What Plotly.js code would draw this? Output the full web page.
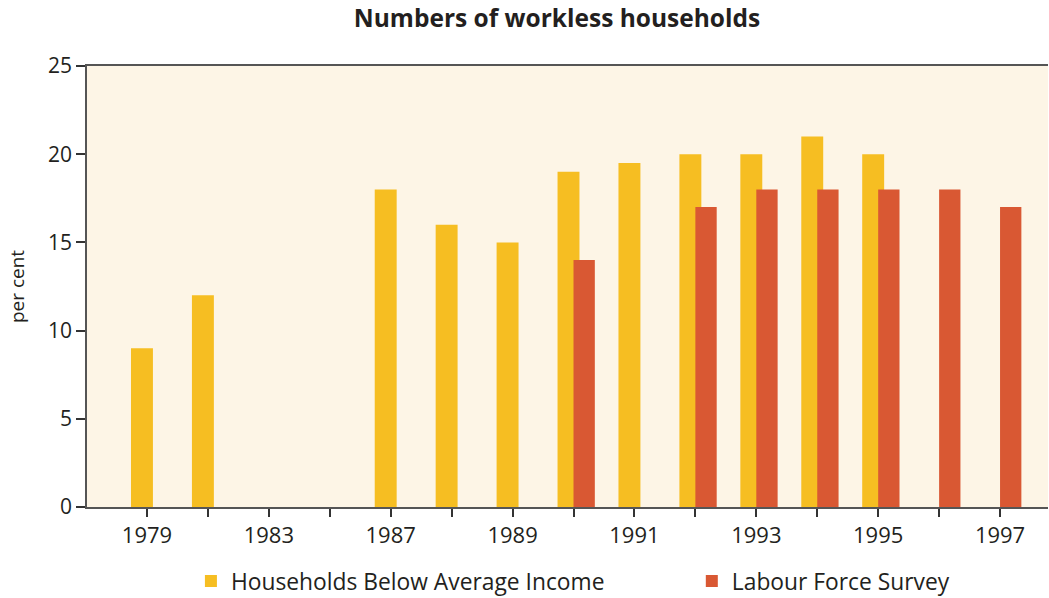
<!DOCTYPE html>
<html>
<head>
<meta charset="utf-8">
<script src="https://cdn.plot.ly/plotly-3.0.1.min.js"></script>
<style>html,body{margin:0;padding:0;background:#fff;}#chart{width:1049px;height:598px;}</style>
</head>
<body>
<div id="chart"></div>
<script>
const categories = ['1979','1981','1983','1985','1987','1988','1989','1990','1991','1992','1993','1994','1995','1996','1997'];
const tickLabels = ['1979','','1983','','1987','','1989','','1991','','1993','','1995','','1997'];
const hbaiValues = [9, 12, 0, 0, 18, 16, 15, 19, 19.5, 20, 20, 21, 20, 0, 0];
const lfsValues = [null, null, null, null, null, null, null, 14, null, 17, 18, 18, 18, 18, 17];
const seriesNames = ['Households Below Average Income', 'Labour Force Survey'];

const FONT = 'Open Sans, DejaVu Sans, sans-serif';
const TXT = '#231f20';

const traces = [
  {
    type: 'bar', name: seriesNames[0], x: categories, y: hbaiValues,
    marker: {color: '#F6BE22', line: {width: 0}},
    offset: -0.262, width: 0.36, legend: 'legend', hoverinfo: 'x+y'
  },
  {
    type: 'bar', name: seriesNames[1], x: categories, y: lfsValues,
    marker: {color: '#D95833', line: {width: 0}},
    offset: 0.0, width: 0.35, legend: 'legend2', hoverinfo: 'x+y'
  }
];

const layout = {
  width: 1049, height: 598,
  margin: {l: 87, r: 1, t: 66, b: 91},
  paper_bgcolor: '#ffffff',
  plot_bgcolor: '#FDF5E6',
  barmode: 'overlay',
  font: {family: FONT, color: TXT, size: 21},
  title: {
    text: '<b>Numbers of workless households</b>',
    font: {family: FONT, size: 24.5, color: TXT},
    xref: 'container', x: 0.531, xanchor: 'center',
    yref: 'container', y: 0.97, yanchor: 'middle'
  },
  xaxis: {
    type: 'category',
    range: [-0.984, 14.787],
    tickmode: 'array', tickvals: categories, ticktext: tickLabels,
    ticks: 'outside', ticklen: 8, tickwidth: 1.5, tickcolor: '#333',
    showline: true, linecolor: '#555', linewidth: 1.5, mirror: true,
    showgrid: false, zeroline: false,
    tickfont: {family: FONT, size: 22, color: TXT}
  },
  yaxis: {
    range: [0, 25], tickvals: [0, 5, 10, 15, 20, 25],
    ticks: 'outside', ticklen: 9, tickwidth: 1.5, tickcolor: '#333',
    showline: true, linecolor: '#555', linewidth: 1.5,
    showgrid: false, zeroline: false,
    tickfont: {family: FONT, size: 21, color: TXT},
    title: {text: 'per cent', font: {family: FONT, size: 19, color: TXT}, standoff: 18}
  },
  legend: {
    orientation: 'h', xref: 'container', yref: 'container',
    x: 0.182, xanchor: 'left', y: 0.028, yanchor: 'middle',
    bgcolor: 'rgba(0,0,0,0)', font: {family: FONT, size: 22.8, color: TXT}
  },
  legend2: {
    orientation: 'h', xref: 'container', yref: 'container',
    x: 0.6595, xanchor: 'left', y: 0.028, yanchor: 'middle',
    bgcolor: 'rgba(0,0,0,0)', font: {family: FONT, size: 22.8, color: TXT}
  },
  showlegend: true
};

Plotly.newPlot('chart', traces, layout, {displayModeBar: false, responsive: false});
</script>
</body>
</html>
